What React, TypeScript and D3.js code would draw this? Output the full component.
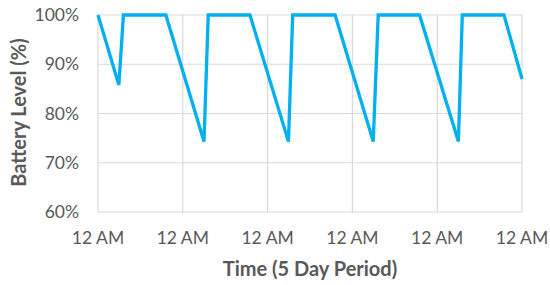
import React from "react";
import * as d3 from "d3";

const hours: number[] = [0, 5.9, 7.2, 19.2, 30.0, 31.2, 43.0, 53.9, 55.1, 67.1, 77.9, 79.3, 91.0, 102.0, 103.1, 114.9, 120];
const levels: number[] = [100, 85.8, 100, 100, 74.3, 100, 100, 74.3, 100, 100, 74.3, 100, 100, 74.3, 100, 100, 87];
const yTicks: number[] = [60, 70, 80, 90, 100];
const xTicks: number[] = [0, 24, 48, 72, 96, 120];
const xTickLabel = "12 AM";
const xTitle = "Time (5 Day Period)";
const yTitle = "Battery Level (%)";

export default function App() {
  const W = 550, H = 285;
  const left = 98, right = 522, top = 15, bottom = 212;
  const x = d3.scaleLinear().domain([0, 120]).range([left, right]);
  const y = d3.scaleLinear().domain([60, 100]).range([bottom, top]);
  const line = d3.line<number>().x((_, i) => x(hours[i])).y((d) => y(d));
  const font = "Lato, 'Open Sans', sans-serif";
  return (
    <svg width={W} height={H} style={{ position: "absolute", left: 0, top: 0, background: "#fff" }}>
      {yTicks.map((t) => (
        <line key={"gy" + t} x1={left} x2={right} y1={y(t)} y2={y(t)} stroke="#d9d9d9" strokeWidth={1.2} />
      ))}
      {xTicks.map((t) => (
        <line key={"gx" + t} x1={x(t)} x2={x(t)} y1={top} y2={bottom} stroke="#d9d9d9" strokeWidth={1.2} />
      ))}
      <path d={line(levels) || ""} fill="none" stroke="#00b0f0" strokeWidth={3.3} strokeLinejoin="miter" />
      {yTicks.map((t) => (
        <text key={"ly" + t} x={79} y={y(t)} dy="0.35em" textAnchor="end" fontFamily={font} fontSize={17.5} fill="#595959">
          {t}%
        </text>
      ))}
      {xTicks.map((t) => (
        <text key={"lx" + t} x={x(t)} y={238} dy="0.35em" textAnchor="middle" fontFamily={font} fontSize={17.5} fill="#595959">
          {xTickLabel}
        </text>
      ))}
      <text x={310} y={269} dy="0.35em" textAnchor="middle" fontFamily={font} fontWeight="bold" fontSize={20} fill="#595959">
        {xTitle}
      </text>
      <text transform={`translate(18.5,112.5) rotate(-90)`} dy="0.35em" textAnchor="middle" fontFamily={font} fontWeight="bold" fontSize={20} fill="#595959">
        {yTitle}
      </text>
    </svg>
  );
}
